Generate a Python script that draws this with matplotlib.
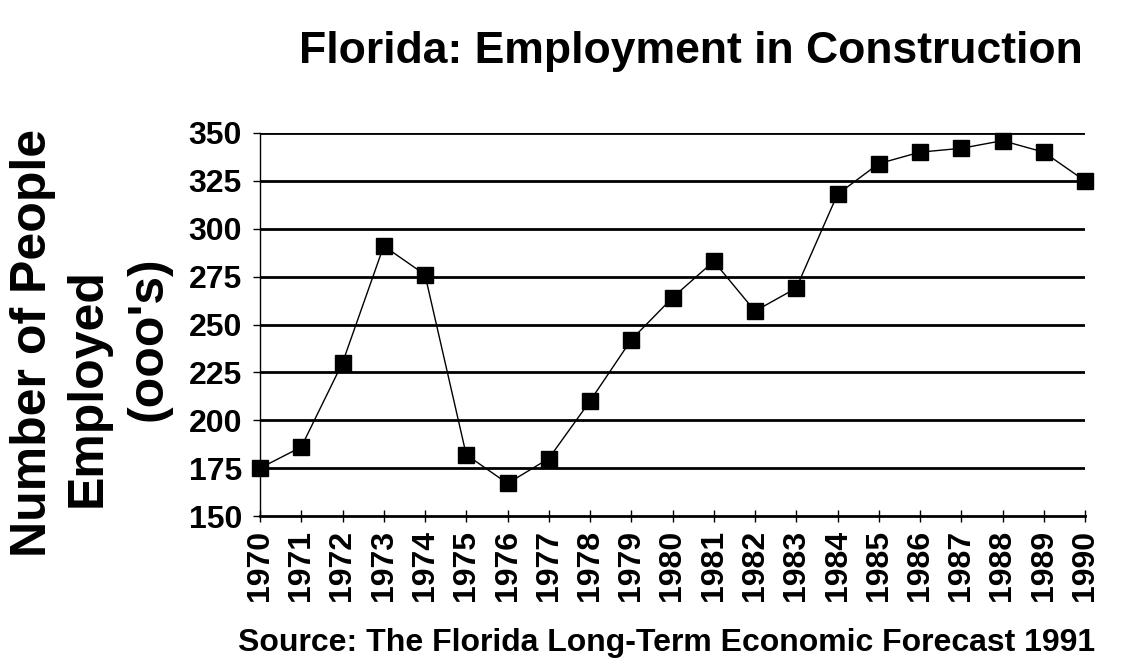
import matplotlib
matplotlib.use("Agg")
import matplotlib.pyplot as plt

years = list(range(1970, 1991))
employed = [175, 186, 230, 291, 276, 182, 167, 180, 210, 242,
            264, 283, 257, 269, 318, 334, 340, 342, 346, 340, 325]
y_ticks = [150, 175, 200, 225, 250, 275, 300, 325, 350]
x_labels = [str(y) for y in years]
ylabel_lines = ["Number of People", "Employed", "(ooo's)"]

plt.rcParams['font.family'] = ['Liberation Sans', 'DejaVu Sans']
plt.rcParams['font.weight'] = 'bold'

W, H = 1132, 664
fig = plt.figure(figsize=(W/100, H/100), dpi=100)
ax = fig.add_axes([260/W, 1-516/H, (1085-260)/W, (516-133)/H])

for v in y_ticks[1:]:
    ax.axhline(v, color='black', lw=2.0, zorder=1)

ax.plot(years, employed, color='black', lw=1.0, marker='s', markersize=11,
        markerfacecolor='black', markeredgecolor='black', clip_on=False, zorder=3)

ax.set_xlim(1970, 1990)
ax.set_ylim(150, 350)
ax.set_yticks(y_ticks)
ax.set_yticklabels([str(v) for v in y_ticks], fontsize=23, fontweight='bold')
ax.set_xticks(years)
ax.set_xticklabels(x_labels, rotation=90, fontsize=23, fontweight='bold')

for s in ['top', 'right']:
    ax.spines[s].set_visible(False)
ax.spines['left'].set_linewidth(1.0)
ax.spines['bottom'].set_linewidth(2.0)
ax.tick_params(axis='y', direction='out', length=5, width=1, pad=8)
ax.tick_params(axis='x', direction='inout', length=8, width=1, pad=6)

fig.text(0.61, 0.922, "Florida: Employment in Construction", ha='center', va='center',
         fontsize=32, fontweight='bold')

# y-axis label, three lines placed as in the reference
ylabel_pos = [(33, 343), (88, 388), (148, 339)]
for line, (px, py) in zip(ylabel_lines, ylabel_pos):
    fig.text(px/W, 1-py/H, line, ha='center', va='center', rotation=90,
             fontsize=36, fontweight='bold')

fig.text(0.589, 0.032, "Source: The Florida Long-Term Economic Forecast 1991",
         ha='center', va='center', fontsize=23, fontweight='bold')

fig.savefig("out.png", dpi=100)
